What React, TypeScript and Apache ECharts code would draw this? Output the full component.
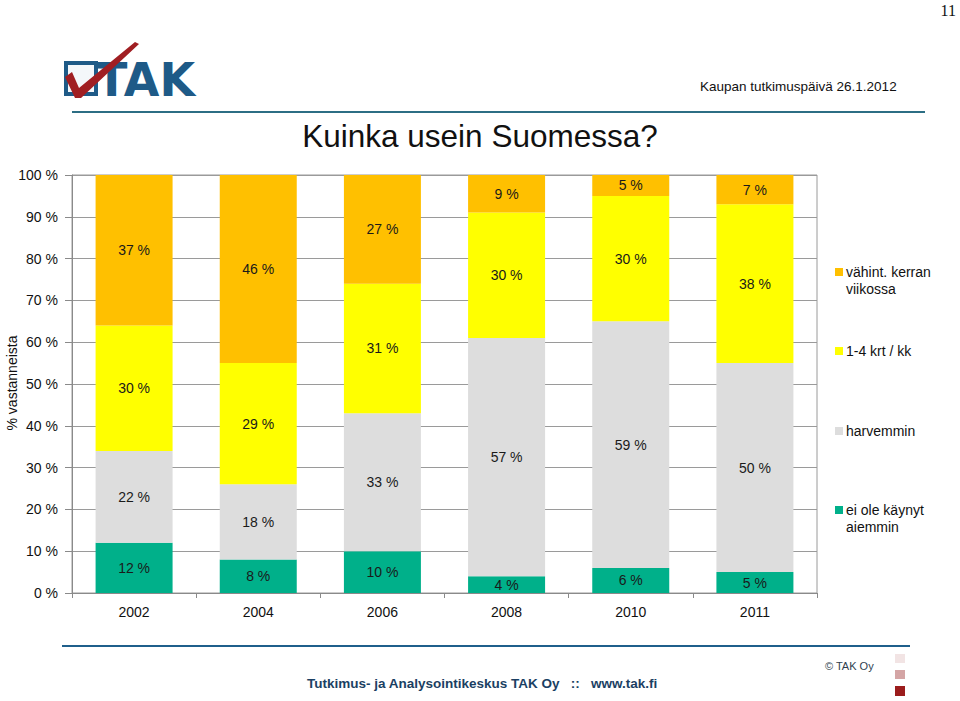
import React, { useEffect, useRef } from "react";
import * as echarts from "echarts";

const years = ["2002", "2004", "2006", "2008", "2010", "2011"];
const eiOle = [12, 8, 10, 4, 6, 5];
const harvemmin = [22, 18, 33, 57, 59, 50];
const krt = [30, 29, 31, 30, 30, 38];
const vahint = [37, 46, 27, 9, 5, 7];

const seriesNames = ["ei ole käynyt\naiemmin", "harvemmin", "1-4 krt / kk", "vähint. kerran\nviikossa"];
const seriesColors = ["#00B08A", "#DDDDDD", "#FFFF00", "#FFC000"];

const FONT = "'Liberation Sans', Arial, sans-serif";

export default function App() {
  const ref = useRef<HTMLDivElement>(null);
  useEffect(() => {
    document.body.style.margin = "0";
    const chart = echarts.init(ref.current!, null, { renderer: "svg" });
    const values = [eiOle, harvemmin, krt, vahint];
    const series = values.map((v, i) => ({
      name: seriesNames[i],
      type: "bar",
      stack: "total",
      data: v,
      barWidth: 77,
      itemStyle: { color: seriesColors[i] },
      label: {
        show: true,
        position: "inside",
        formatter: "{c} %",
        fontSize: 14,
        fontFamily: FONT,
        color: "#1a1a1a",
      },
      clip: true,
    }));

    const legendY = [272, 351, 431, 510];
    const legendOrder = [3, 2, 1, 0];
    const legendGraphics: any[] = [];
    legendOrder.forEach((si, k) => {
      legendGraphics.push({
        type: "rect",
        shape: { x: 835, y: legendY[k] - 4, width: 8, height: 8 },
        style: { fill: seriesColors[si] },
      });
      legendGraphics.push({
        type: "text",
        x: 846,
        y: legendY[k] - 9,
        style: {
          text: seriesNames[si],
          font: `14px ${FONT}`,
          fill: "#111",
          lineHeight: 17,
          verticalAlign: "top",
        },
      });
    });

    chart.setOption({
      animation: false,
      backgroundColor: "#fff",
      textStyle: { fontFamily: FONT },
      grid: {
        left: 72,
        right: 143,
        top: 175,
        bottom: 108,
        show: true,
        borderColor: "#9a9a9a",
        borderWidth: 1,
        containLabel: false,
      },
      xAxis: {
        type: "category",
        data: years,
        axisLine: { lineStyle: { color: "#8a8a8a" } },
        axisTick: { show: true, length: 5, lineStyle: { color: "#8a8a8a" } },
        axisLabel: { fontSize: 14, color: "#111", margin: 12, fontFamily: FONT },
      },
      yAxis: {
        type: "value",
        min: 0,
        max: 100,
        interval: 10,
        axisLine: { show: true, lineStyle: { color: "#8a8a8a" } },
        axisTick: { show: true, length: 7, lineStyle: { color: "#8a8a8a" } },
        axisLabel: { formatter: "{value} %", fontSize: 14, color: "#111", margin: 14, fontFamily: FONT },
        splitLine: { show: true, lineStyle: { color: "#9a9a9a" } },
      },
      series,
      graphic: [
        // page number
        {
          type: "text",
          x: 956,
          y: 2,
          style: { text: "11", font: "16px 'Liberation Serif', serif", fill: "#111", align: "right", verticalAlign: "top" },
        },
        // logo box
        {
          type: "rect",
          shape: { x: 66, y: 63, width: 30, height: 31 },
          style: { fill: "#f4f7fa", stroke: "#1E5A87", lineWidth: 4 },
        },
        {
          type: "text",
          x: 96,
          y: 80,
          style: {
            text: "TAK",
            font: "bold 46px 'DejaVu Sans', sans-serif",
            fill: "#1E5A87",
            verticalAlign: "middle",
          },
        },
        {
          type: "polygon",
          shape: { points: [[65, 77], [72, 72], [79, 88], [135, 42], [139, 44], [81, 98], [75, 98]] },
          style: { fill: "#A01E22" },
        },
        // header right
        {
          type: "text",
          x: 700,
          y: 86,
          style: { text: "Kaupan tutkimuspäivä 26.1.2012", font: `13.5px ${FONT}`, fill: "#111", verticalAlign: "middle" },
        },
        // header line
        {
          type: "line",
          shape: { x1: 72, y1: 112, x2: 925, y2: 112 },
          style: { stroke: "#2C6E84", lineWidth: 2 },
        },
        // title
        {
          type: "text",
          x: 480,
          y: 136,
          style: { text: "Kuinka usein Suomessa?", font: `31.5px ${FONT}`, fill: "#111", align: "center", verticalAlign: "middle" },
        },
        // y axis name
        {
          type: "text",
          x: 12,
          y: 383,
          rotation: Math.PI / 2,
          style: { text: "% vastanneista", font: `14px ${FONT}`, fill: "#111", align: "center", verticalAlign: "middle" },
        },
        ...legendGraphics,
        // footer
        {
          type: "line",
          shape: { x1: 62, y1: 646, x2: 910, y2: 646 },
          style: { stroke: "#1F5F8B", lineWidth: 2 },
        },
        {
          type: "text",
          x: 307,
          y: 683,
          style: {
            text: "Tutkimus- ja Analysointikeskus TAK Oy   ::   www.tak.fi",
            font: `bold 13.5px ${FONT}`,
            fill: "#1B3F63",
            verticalAlign: "middle",
          },
        },
        {
          type: "text",
          x: 825,
          y: 666,
          style: { text: "© TAK Oy", font: `11px ${FONT}`, fill: "#2F3F4F", verticalAlign: "middle" },
        },
        { type: "rect", shape: { x: 895, y: 654, width: 10, height: 9 }, style: { fill: "#F2E4E4" } },
        { type: "rect", shape: { x: 895, y: 670, width: 10, height: 9 }, style: { fill: "#D4A5A5" } },
        { type: "rect", shape: { x: 895, y: 686, width: 10, height: 10 }, style: { fill: "#9B1C1C" } },
      ],
    });
    return () => chart.dispose();
  }, []);
  return <div ref={ref} style={{ position: "fixed", left: 0, top: 0, width: 960, height: 701 }} />;
}
